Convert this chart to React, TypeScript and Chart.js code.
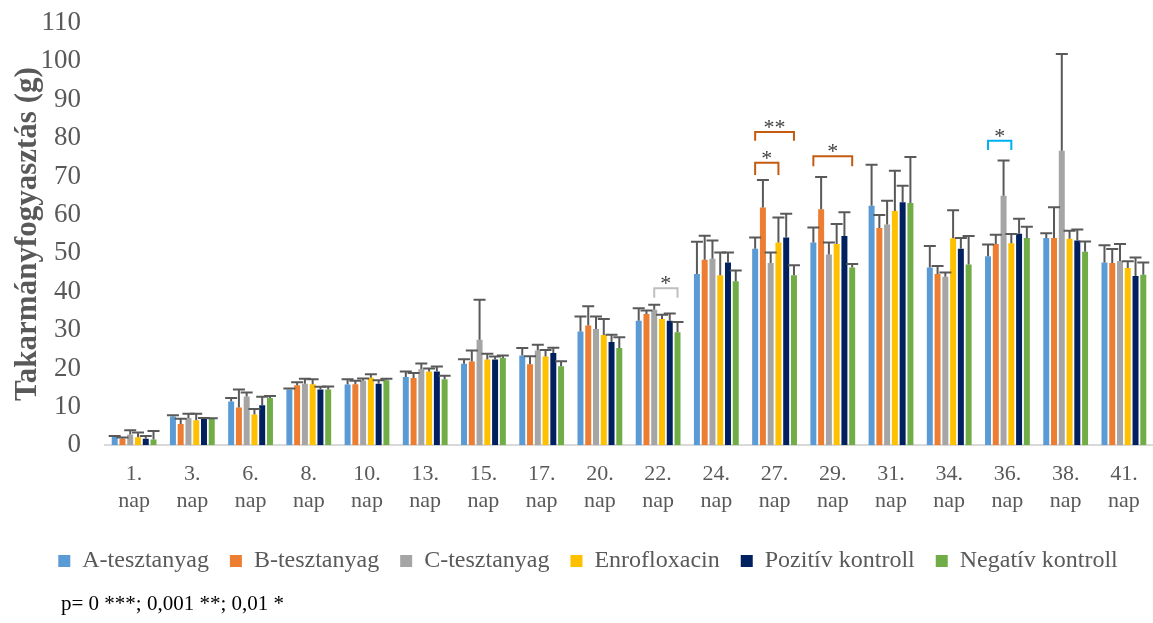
import React, { useEffect, useRef } from "react";
import { Chart, registerables } from "chart.js";

Chart.register(...registerables);

const dayLabels: string[][] = [
  ["1.", "nap"], ["3.", "nap"], ["6.", "nap"], ["8.", "nap"], ["10.", "nap"], ["13.", "nap"],
  ["15.", "nap"], ["17.", "nap"], ["20.", "nap"], ["22.", "nap"], ["24.", "nap"], ["27.", "nap"],
  ["29.", "nap"], ["31.", "nap"], ["34.", "nap"], ["36.", "nap"], ["38.", "nap"], ["41.", "nap"],
];

const seriesNames = ["A-tesztanyag", "B-tesztanyag", "C-tesztanyag", "Enrofloxacin", "Pozitív kontroll", "Negatív kontroll"];
const seriesColors = ["#5B9BD5", "#ED7D31", "#A5A5A5", "#FFC000", "#002060", "#70AD47"];

const aValues = [2.2, 7.5, 11.4, 14.5, 15.8, 17.8, 21.2, 23.4, 29.6, 32.4, 44.6, 51.2, 52.8, 62.4, 46.3, 49.2, 54.0, 47.6];
const bValues = [1.7, 5.5, 9.8, 15.6, 15.9, 17.5, 21.8, 21.1, 31.2, 34.2, 48.3, 61.9, 61.5, 56.6, 44.6, 52.4, 54.0, 47.5];
const cValues = [2.8, 7.1, 12.7, 16.0, 16.8, 19.8, 27.5, 24.7, 30.3, 35.3, 48.6, 47.5, 49.7, 57.5, 43.9, 65.0, 76.7, 48.0];
const enroValues = [2.1, 6.5, 8.0, 15.9, 17.6, 19.2, 22.3, 23.1, 28.7, 32.9, 44.3, 52.8, 52.4, 61.0, 53.9, 52.6, 53.8, 46.2];
const pozValues = [1.7, 6.9, 10.4, 14.5, 16.0, 19.2, 22.3, 24.0, 26.9, 32.4, 47.6, 54.1, 54.5, 63.3, 51.2, 55.1, 53.3, 44.1];
const negValues = [1.5, 6.9, 12.3, 14.5, 16.9, 17.2, 22.7, 20.6, 25.3, 29.4, 42.7, 44.3, 46.3, 63.1, 47.1, 54.0, 50.4, 44.4];

const aErrors = [0.2, 0.3, 0.9, 0.3, 1.4, 1.4, 1.2, 1.9, 3.9, 3.3, 8.4, 2.9, 3.9, 10.7, 5.6, 3.1, 1.2, 4.5];
const bErrors = [0.3, 1.4, 4.7, 0.8, 0.9, 1.3, 2.9, 2.1, 5.0, 0.9, 6.3, 7.2, 8.4, 3.4, 2.1, 2.4, 8.0, 3.6];
const cErrors = [1.1, 1.1, 1.0, 1.3, 0.6, 1.5, 10.4, 1.5, 3.2, 1.3, 4.7, 2.7, 3.1, 6.2, 1.1, 9.2, 25.2, 4.4];
const enroErrors = [1.2, 1.7, 1.4, 1.3, 0.9, 0.8, 1.5, 1.7, 4.2, 1.1, 5.9, 6.5, 5.2, 10.5, 7.3, 2.4, 2.1, 1.7];
const pozErrors = [0.7, 0.2, 2.2, 0.7, 0.9, 1.3, 0.8, 1.4, 1.9, 1.9, 2.6, 6.2, 6.2, 4.3, 2.8, 3.9, 2.9, 4.8];
const negErrors = [2.2, 0.1, 0.5, 0.8, 0.4, 0.9, 0.7, 1.3, 2.8, 2.7, 2.8, 2.6, 0.9, 12.0, 7.4, 2.9, 2.7, 3.2];

const allValues = [aValues, bValues, cValues, enroValues, pozValues, negValues];
const allErrors = [aErrors, bErrors, cErrors, enroErrors, pozErrors, negErrors];

// significance brackets
const bracketDay = [9, 11, 11, 12, 15];
const bracketFrom = [2, 0, 0, 0, 0];
const bracketTo = [5, 3, 5, 5, 3];
const bracketTop = [40.9, 73.6, 81.6, 75.3, 79.3];
const bracketLeg = [38.4, 70.4, 79.3, 72.7, 76.9];
const bracketLabel = ["*", "*", "**", "*", "*"];
const bracketColor = ["#BFBFBF", "#C55A11", "#C55A11", "#C55A11", "#00B0F0"];

const yTitle = "Takarmányfogyasztás (g)";
const footnote = "p= 0 ***; 0,001 **; 0,01 *";

const FONT = "'Liberation Serif', 'Times New Roman', serif";
const PAD_LEFT = 23;

const errorBarPlugin = {
  id: "errorBars",
  afterDatasetsDraw(chart: any) {
    const ctx = chart.ctx;
    const yScale = chart.scales.y;
    ctx.save();
    ctx.strokeStyle = "#595959";
    ctx.lineWidth = 2;
    chart.data.datasets.forEach((ds: any, i: number) => {
      const meta = chart.getDatasetMeta(i);
      meta.data.forEach((el: any, j: number) => {
        const v = ds.data[j];
        const e = allErrors[i][j];
        const yTop = yScale.getPixelForValue(v + e);
        const x = el.x;
        ctx.beginPath();
        ctx.moveTo(x, el.y);
        ctx.lineTo(x, yTop);
        ctx.moveTo(x - 6, yTop);
        ctx.lineTo(x + 6, yTop);
        ctx.stroke();
      });
    });
    ctx.restore();
  },
};

const bracketPlugin = {
  id: "brackets",
  afterDatasetsDraw(chart: any) {
    const ctx = chart.ctx;
    const yScale = chart.scales.y;
    ctx.save();
    bracketDay.forEach((d, k) => {
      const x1 = chart.getDatasetMeta(bracketFrom[k]).data[d].x;
      const x2 = chart.getDatasetMeta(bracketTo[k]).data[d].x;
      const yT = yScale.getPixelForValue(bracketTop[k]);
      const yL = yScale.getPixelForValue(bracketLeg[k]);
      ctx.strokeStyle = bracketColor[k];
      ctx.lineWidth = 2;
      ctx.beginPath();
      ctx.moveTo(x1, yL);
      ctx.lineTo(x1, yT);
      ctx.lineTo(x2, yT);
      ctx.lineTo(x2, yL);
      ctx.stroke();
      ctx.fillStyle = "#404040";
      ctx.font = `22px ${FONT}`;
      ctx.textAlign = "center";
      ctx.textBaseline = "alphabetic";
      ctx.fillText(bracketLabel[k], (x1 + x2) / 2, yT + 2);
    });
    ctx.restore();
  },
};

const footnotePlugin = {
  id: "footnote",
  afterDraw(chart: any) {
    const ctx = chart.ctx;
    ctx.save();
    ctx.fillStyle = "#000000";
    ctx.font = `21px ${FONT}`;
    ctx.textAlign = "left";
    ctx.textBaseline = "alphabetic";
    ctx.fillText(footnote, 61, 610);
    ctx.restore();
  },
};

export default function App() {
  const canvasRef = useRef<HTMLCanvasElement | null>(null);

  useEffect(() => {
    document.body.style.margin = "0";
    const canvas = canvasRef.current;
    if (!canvas) return;
    const chart = new Chart(canvas, {
      type: "bar",
      data: {
        labels: dayLabels,
        datasets: seriesNames.map((name, i) => ({
          label: name,
          data: allValues[i],
          backgroundColor: seriesColors[i],
          borderWidth: 0,
          categoryPercentage: 0.8,
          barPercentage: 0.77,
        })),
      },
      options: {
        animation: false,
        responsive: false,
        devicePixelRatio: 1,
        layout: { padding: { top: 23, left: PAD_LEFT, right: 0, bottom: 40 } },
        plugins: {
          legend: {
            position: "bottom",
            labels: {
              boxWidth: 12,
              boxHeight: 12,
              padding: 21,
              color: "#595959",
              font: { family: FONT, size: 24 },
            },
          },
          tooltip: { enabled: false },
        },
        scales: {
          x: {
            grid: { display: false },
            border: { display: true, color: "#D9D9D9", width: 2 },
            ticks: {
              color: "#595959",
              font: { family: FONT, size: 22 },
              maxRotation: 0,
              autoSkip: false,
              padding: 8,
            },
            afterFit(scale: any) {
              scale.height += 6;
              scale.paddingTop = 0;
              scale.paddingBottom = 0;
            },
          },
          y: {
            min: 0,
            max: 110,
            grid: { display: false, drawTicks: false },
            border: { display: false },
            ticks: {
              stepSize: 10,
              color: "#595959",
              font: { family: FONT, size: 27 },
              padding: 24,
            },
            title: {
              display: true,
              text: yTitle,
              color: "#595959",
              font: { family: FONT, size: 31, weight: "bold" },
              padding: { top: 9 - PAD_LEFT, bottom: 0 },
            },
            afterFit(scale: any) {
              scale.width = 105 - PAD_LEFT;
              scale.paddingTop = 0;
              scale.paddingBottom = 0;
            },
          },
        },
      },
      plugins: [errorBarPlugin, bracketPlugin, footnotePlugin],
    });
    return () => chart.destroy();
  }, []);

  return (
    <div style={{ width: 1153, height: 623, background: "#ffffff" }}>
      <canvas ref={canvasRef} width={1153} height={623} />
    </div>
  );
}
